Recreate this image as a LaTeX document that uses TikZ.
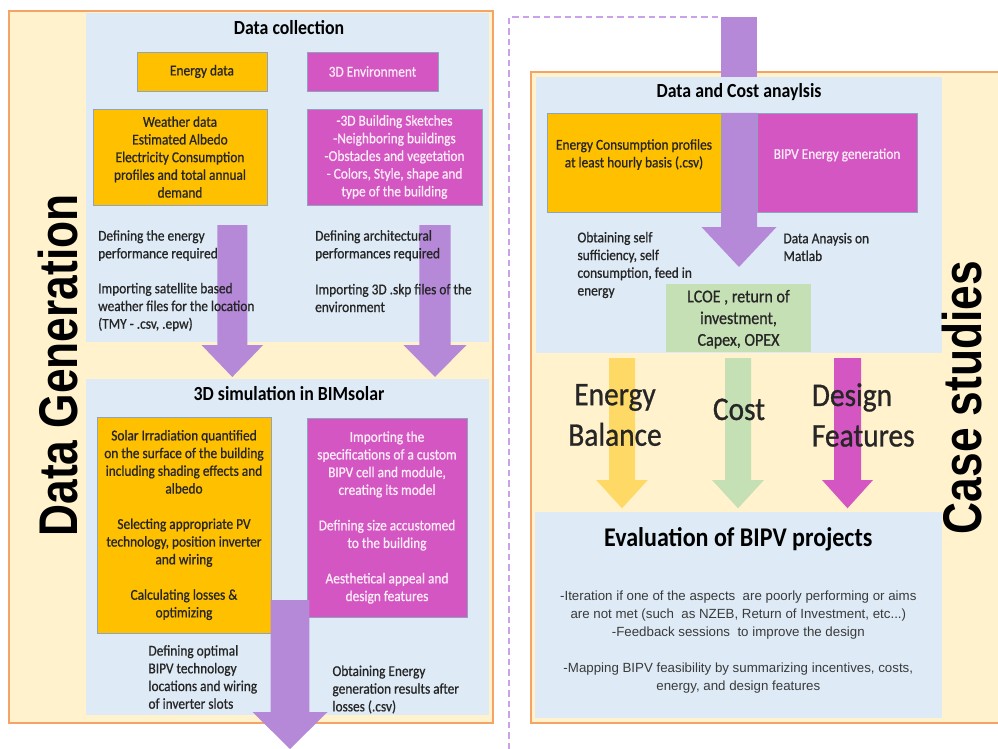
\documentclass[tikz,border=0pt]{standalone}
\usepackage{fontspec}
\setmainfont{Carlito}[FakeStretch=0.89, UprightFeatures={FakeBold=0.8}]
\newfontfamily\sidefont{Liberation Sans}
\newfontfamily\evalfont{Liberation Sans}
\definecolor{cream}{HTML}{FFF2CC}
\definecolor{outline}{HTML}{F5A468}
\definecolor{lightblue}{HTML}{DEEBF7}
\definecolor{gold}{HTML}{FFC000}
\definecolor{magentabox}{HTML}{D456C2}
\definecolor{purplearrow}{HTML}{B589D8}
\definecolor{yellowarrow}{HTML}{FFD966}
\definecolor{greenbox}{HTML}{C5E0B4}
\definecolor{boxline}{HTML}{8EA4BE}
\definecolor{dashpurple}{HTML}{C9A2EA}
\definecolor{textdark}{HTML}{262626}
\definecolor{pinkwhite}{HTML}{FCECF8}
\definecolor{evalgray}{HTML}{3A3A3A}
\newcommand\blockarrow[7]{%
  \fill[#1] ({#2-#6},#3) -- ({#2+#6},#3) -- ({#2+#6},#4) -- ({#2+#7},#4) -- (#2,#5) -- ({#2-#7},#4) -- ({#2-#6},#4) -- cycle;}
\begin{document}
\begin{tikzpicture}[x=1pt,y=-1pt,
  outerbox/.style={fill=cream, draw=outline, line width=2pt},
  bluebox/.style={fill=lightblue},
  obox/.style={fill=gold, draw=boxline, line width=0.8pt, text=textdark, align=center, inner sep=2pt,
    font=\fontsize{15}{17.7}\selectfont},
  mbox/.style={fill=magentabox, draw=boxline, line width=0.8pt, text=pinkwhite, align=center, inner sep=2pt,
    font=\fontsize{15}{17.7}\selectfont},
  body/.style={font=\fontsize{15}{17.7}\selectfont, inner sep=0pt, text=textdark},
  title/.style={font=\fontsize{20}{24}\selectfont\bfseries, inner sep=0pt, text=black, anchor=base},
  biglabel/.style={font=\fontsize{33}{40.5}\selectfont, inner sep=0pt, text=textdark},
  sidelabel/.style={rotate=90, anchor=base, inner sep=0pt, text=black},
  dashline/.style={draw=dashpurple, line width=1.6pt, dash pattern=on 6.5pt off 4pt}
]
\useasboundingbox (0,0) rectangle (998,749);
\fill[white] (0,0) rectangle (998,749);

% ---------------- left panel ----------------
\draw[outerbox] (9,11) rectangle (493,723);
\fill[lightblue] (86,13) rectangle (489,342);
\fill[lightblue] (86,379) rectangle (489,715);

\node[sidelabel] (datagen) at (77.3,365.5)
  {\scalebox{1}[1.23]{\fontsize{44.3}{50}\sidefont\bfseries Data Generation}};

\blockarrow{purplearrow}{232.3}{225}{345}{377}{15}{30.8}
\blockarrow{purplearrow}{435}{225}{345}{377}{15.7}{31.5}

\node[title] (dctitle) at (289,34.3) {Data collection};
\node[obox, minimum width=130pt, minimum height=39pt] (energy) at (202,71.5) {Energy data};
\node[mbox, minimum width=131pt, minimum height=39pt] (env) at (372.5,71.5) {3D Environment};
\node[obox, minimum width=174pt, minimum height=96pt] (weather) at (180,157)
  {Weather data\\Estimated Albedo\\Electricity Consumption\\profiles and total annual\\demand};
\node[mbox, minimum width=175pt, minimum height=96pt] (building) at (394.5,157)
  {-3D Building Sketches\\-Neighboring buildings\\-Obstacles and vegetation\\- Colors, Style, shape and\\type of the building};

\node[body, anchor=west, align=left] (defen) at (98,245.5) {Defining the energy\\performance required};
\node[body, anchor=west, align=left] (impsat) at (98,307) {Importing satellite based\\weather files for the location\\(TMY - .csv, .epw)};
\node[body, anchor=west, align=left] (defarch) at (315,245.5) {Defining architectural\\performances required};
\node[body, anchor=west, align=left] (impskp) at (315,298) {Importing 3D .skp files of the\\environment};

\node[title] (simtitle) at (289,400) {3D simulation in BIMsolar};
\node[obox, minimum width=174pt, minimum height=216pt] (solar) at (184,525)
  {Solar Irradiation quantified\\on the surface of the building\\including shading effects and\\albedo\\[17.7pt]Selecting appropriate PV\\technology, position inverter\\and wiring\\[17.7pt]Calculating losses \&\\optimizing};
\node[mbox, minimum width=160pt, minimum height=199pt] (custom) at (387,517.5)
  {Importing the\\specifications of a custom\\BIPV cell and module,\\creating its model\\[17.7pt]Defining size accustomed\\to the building\\[17.7pt]Aesthetical appeal and\\design features};

\node[body, anchor=west, align=left] (defopt) at (148.3,677) {Defining optimal\\BIPV technology\\locations and wiring\\of inverter slots};
\node[body, anchor=west, align=left] (obtgen) at (332.3,689.5) {Obtaining Energy\\generation results after\\losses (.csv)};

\blockarrow{purplearrow}{290}{600}{712}{749}{19.3}{37.5}

% ---------------- right panel ----------------
\coordinate (dashbottom) at (509,749);
\coordinate (dashcorner) at (509,17.3);
\coordinate (dashend) at (720.7,17.3);
\draw[dashline] (dashbottom) -- (dashcorner) -- (dashend);

\draw[outerbox] (531,72) rectangle (1010,723);
\fill[purplearrow] (720.7,16.7) rectangle (757,76.7);
\fill[lightblue] (536,77) rectangle (942,353);
\fill[lightblue] (535,512) rectangle (942,718);

\node[sidelabel] (casestudies) at (981.7,397.5)
  {\scalebox{1}[1.23]{\fontsize{44.3}{50}\sidefont\bfseries Case studies}};

\node[title] (dctitle2) at (739,97.3) {Data and Cost anaylsis};
\blockarrow{purplearrow}{739}{113}{227}{267}{18}{37.5}
\draw[fill=gold, draw=boxline, line width=0.8pt] (547,113) rectangle (721,212);
\draw[fill=magentabox, draw=boxline, line width=0.8pt] (757,113) rectangle (917,212);
\node[body, align=center] (cons) at (634,154.5) {Energy Consumption profiles\\at least hourly basis (.csv)};
\node[body, text=pinkwhite] (bipvgen) at (837,155) {BIPV Energy generation};

\node[body, anchor=west, align=left] (selfsuf) at (577.3,265) {Obtaining self\\sufficiency, self\\consumption, feed in\\energy};
\node[body, anchor=west, align=left] (matlab) at (783.3,247) {Data Anaysis on\\Matlab};

\fill[greenbox] (666,284) rectangle (811,352);
\node[inner sep=0pt, align=center, text=textdark, font=\fontsize{18}{21.7}\selectfont] (lcoe) at (738.5,319.3)
  {LCOE , return of\\investment,\\Capex, OPEX};

\blockarrow{yellowarrow}{622}{358}{480}{508.3}{13}{25.8}
\blockarrow{greenbox}{738}{358}{480}{508.3}{13}{26}
\blockarrow{magentabox}{847.5}{358}{480}{508.3}{13.5}{25.5}

\node[biglabel, align=center] (enbal) at (615,415) {Energy\\Balance};
\node[biglabel, anchor=base] (cost) at (739,420) {Cost};
\node[biglabel, anchor=west, align=left] (design) at (811.7,415) {Design\\Features};

\node[inner sep=0pt, anchor=base, text=black, font=\fontsize{27}{32}\selectfont\bfseries] (evaltitle) at (738.3,546.7)
  {Evaluation of BIPV projects};
\node[inner sep=0pt, align=center, text=evalgray, font=\fontsize{13.3}{18}\evalfont] (evaltext) at (738.3,642)
  {-Iteration if one of the aspects\ \ are poorly performing or aims\\are not met (such\ \ as NZEB, Return of Investment, etc...)\\-Feedback sessions\ \ to improve the design\\[18pt]-Mapping BIPV feasibility by summarizing incentives, costs,\\energy, and design features};
\end{tikzpicture}
\end{document}
